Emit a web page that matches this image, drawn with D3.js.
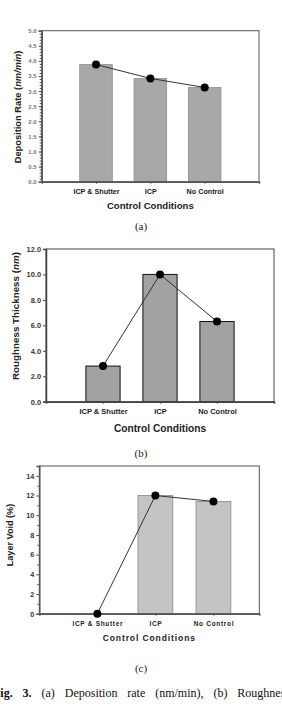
<!DOCTYPE html>
<html><head><meta charset="utf-8">
<script src="https://cdn.jsdelivr.net/npm/d3@7/dist/d3.min.js"></script>
<style>body{margin:0;background:#fff;}svg{display:block;}</style>
</head><body>
<script>
const categories = ["ICP & Shutter", "ICP", "No Control"];
const depositionRate = [3.88, 3.42, 3.12];
const roughness = [2.8, 10.0, 6.3];
const layerVoid = [0, 12.0, 11.4];
const ticksA = [0,0.5,1,1.5,2,2.5,3,3.5,4,4.5,5];
const ticksB = [0,2,4,6,8,10,12];
const ticksC = [0,2,4,6,8,10,12,14];
const captionWords = ["Fig.", "3.", "(a)", "Deposition", "rate", "(nm/min),", "(b)", "Roughness"];

const W = 282, H = 706;
const svg = d3.select("body").append("svg").attr("width", W).attr("height", H);
const sans = "'Liberation Sans', Arial, sans-serif";
const serif = "'Liberation Serif', 'Times New Roman', serif";

function chart(o) {
  const g = svg.append("g");
  const x = d3.scaleLinear().domain(o.xdom).range([o.left, o.right]);
  const y = d3.scaleLinear().domain(o.ydom).range([o.bottom, o.top]);
  const pos = categories.map((c, i) => i + 1);
  const pts = o.values.map((v, i) => ({ v, p: i + 1 }));
  // bars
  g.selectAll("rect.bar").data(pts.filter(d => d.v > 0)).join("rect")
    .attr("x", d => x(d.p - 0.3)).attr("width", x(0.6) - x(0))
    .attr("y", d => y(d.v)).attr("height", d => y(0) - y(d.v))
    .attr("fill", o.barFill).attr("stroke", o.barStroke).attr("stroke-width", o.barSW);
  // frame
  g.append("rect").attr("x", o.left).attr("y", o.top)
    .attr("width", o.right - o.left).attr("height", o.bottom - o.top)
    .attr("fill", "none").attr("stroke", o.frame).attr("stroke-width", 1);
  // y axis
  const ya = d3.axisLeft(y).tickValues(o.yticks).tickFormat(o.yfmt).tickSize(3).tickPadding(2);
  const yg = g.append("g").attr("transform", `translate(${o.left},0)`).call(ya);
  yg.select(".domain").attr("stroke", o.frame).attr("stroke-width", 1.5);
  yg.selectAll(".tick line").attr("stroke", o.frame);
  yg.selectAll("text").attr("font-family", sans).attr("font-size", o.ytfs)
    .attr("font-weight", "bold").attr("fill", o.ytcol);
  if (o.minor) {
    const mg = g.append("g").attr("transform", `translate(${o.left},0)`)
      .call(d3.axisLeft(y).tickValues(o.minor).tickFormat("").tickSize(2));
    mg.select(".domain").remove();
    mg.selectAll(".tick line").attr("stroke", o.frame);
  }
  // x axis
  const xa = d3.axisBottom(x).tickValues(pos).tickFormat((d, i) => categories[i]).tickSize(2).tickPadding(o.xpad);
  const xg = g.append("g").attr("transform", `translate(0,${o.bottom})`).call(xa);
  xg.select(".domain").attr("stroke", o.frame).attr("stroke-width", 1.5);
  xg.selectAll(".tick line").attr("stroke", o.frame);
  xg.selectAll("text").attr("font-family", sans).attr("font-size", o.xtfs)
    .attr("font-weight", "bold").attr("fill", "#222").attr("letter-spacing", o.xls || 0);
  // line + points
  const line = d3.line().x(d => x(d.p)).y(d => y(d.v));
  g.append("path").datum(pts).attr("d", line).attr("fill", "none")
    .attr("stroke", "#333").attr("stroke-width", 1);
  g.selectAll("circle").data(pts).join("circle")
    .attr("cx", d => x(d.p)).attr("cy", d => y(d.v)).attr("r", 4).attr("fill", "#000");
  // x title
  g.append("text").attr("x", (o.left + o.right) / 2).attr("y", o.xtitleY)
    .attr("text-anchor", "middle").attr("font-family", sans).attr("font-weight", "bold")
    .attr("font-size", o.xtitleFs).attr("fill", "#222").attr("letter-spacing", o.tls || 0)
    .text("Control Conditions");
  // y title
  const yt = g.append("text").attr("transform", `translate(${o.ytitleX},${o.ytitleY}) rotate(-90)`)
    .attr("text-anchor", "middle").attr("font-family", sans).attr("font-weight", "bold")
    .attr("font-size", o.ytitleFs).attr("fill", "#222");
  o.ytitle.forEach(p => yt.append("tspan").attr("font-style", p[1] ? "italic" : "normal").text(p[0]));
  // caption
  svg.append("text").attr("x", 141).attr("y", o.capY).attr("text-anchor", "middle")
    .attr("font-family", serif).attr("font-size", 11).attr("fill", "#222").text(o.cap);
}

chart({
  values: depositionRate, xdom: [0, 4], ydom: [0, 5],
  left: 41.7, right: 259, top: 30.7, bottom: 181.7,
  yticks: ticksA, yfmt: d3.format(".1f"), ytfs: 6, ytcol: "#777",
  minor: d3.range(0, 5.01, 0.1).map(v => +v.toFixed(1)),
  barFill: "#a8a8a8", barStroke: "#909090", barSW: 0.8, frame: "#555",
  xtfs: 7.2, xpad: 5.5, xtitleY: 209.2, xtitleFs: 9.6,
  ytitle: [["Deposition Rate ("], ["nm/min", true], [")"]],
  ytitleX: 21.3, ytitleY: 107, ytitleFs: 9.3, cap: "(a)", capY: 230
});

chart({
  values: roughness, xdom: [0, 4], ydom: [0, 12],
  left: 46, right: 274, top: 249, bottom: 401.7,
  yticks: ticksB, yfmt: d3.format(".1f"), ytfs: 7.4, ytcol: "#333",
  minor: null,
  barFill: "#a2a2a2", barStroke: "#111", barSW: 1, frame: "#444",
  xtfs: 7.5, xpad: 5.3, xtitleY: 431.7, xtitleFs: 10.2,
  ytitle: [["Roughness Thickness ("], ["nm", true], [")"]],
  ytitleX: 18.5, ytitleY: 316, ytitleFs: 9.8, cap: "(b)", capY: 456.5
});

chart({
  values: layerVoid, xdom: [0, 3.79], ydom: [0, 15],
  left: 39.3, right: 259.3, top: 466, bottom: 613.7,
  yticks: ticksC, yfmt: d3.format("d"), ytfs: 7.2, ytcol: "#333",
  minor: d3.range(1, 15, 2),
  barFill: "#c4c4c4", barStroke: "#8a8a8a", barSW: 0.8, frame: "#555",
  xtfs: 6.5, xls: 0.7, xpad: 6, xtitleY: 641, xtitleFs: 8.5, tls: 0.9,
  ytitle: [["Layer Void (%)"]],
  ytitleX: 13.3, ytitleY: 535, ytitleFs: 9.1, cap: "(c)", capY: 671.5
});

// figure caption line: justified words, running past both edges as in the source
const capG = svg.append("g").attr("font-family", serif).attr("font-size", 12).attr("fill", "#111");
const words = capG.selectAll("text").data(captionWords).join("text")
  .attr("y", 697).attr("font-weight", (d, i) => i < 2 ? "bold" : "normal").text(d => d);
const widths = words.nodes().map(n => n.getComputedTextLength());
const x0 = -7, x1 = 290;
const gap = (x1 - x0 - d3.sum(widths)) / (captionWords.length - 1);
let cx = x0;
words.attr("x", (d, i) => { const v = cx; cx += widths[i] + gap; return v; });
</script>
</body></html>
